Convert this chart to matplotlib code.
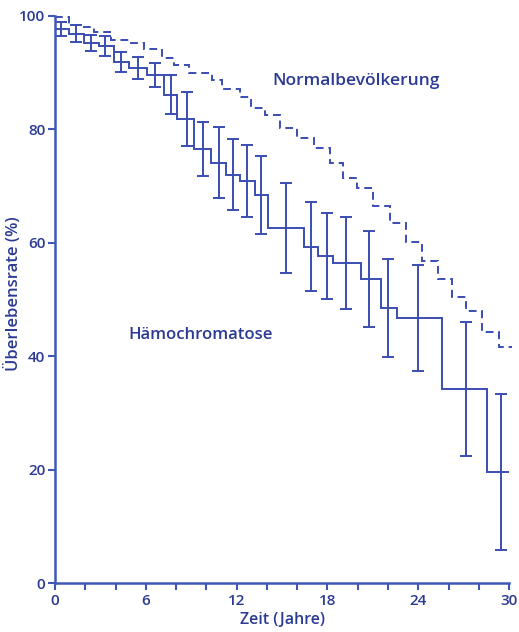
import matplotlib
matplotlib.use("Agg")
import matplotlib.pyplot as plt
import numpy as np

# Normalbevölkerung (dashed step curve)
normal_t = [0, 0.93, 1.72, 2.58, 3.71, 4.9, 5.89, 7.09, 7.88, 8.87, 10.4, 11.0,
            12.19, 12.98, 13.84, 14.83, 15.96, 17.09, 18.15, 19.0, 19.93, 20.99,
            22.12, 23.18, 24.24, 25.3, 26.23, 27.15, 28.21, 29.34, 30.2]
normal_v = [99.8, 98.4, 98.1, 97.2, 95.8, 95.2, 94.2, 92.6, 91.4, 89.9, 88.7,
            87.1, 85.7, 83.8, 82.5, 80.2, 78.5, 76.7, 74.1, 71.4, 69.7, 66.5,
            63.5, 60.1, 56.8, 53.6, 50.4, 48.0, 44.3, 41.6]

# Hämochromatose (solid step curve with error bars)
haemo_t = [0, 0.93, 1.92, 2.91, 3.91, 4.9, 6.09, 7.22, 8.08, 9.21, 10.33, 11.32,
           12.19, 13.18, 14.04, 16.42, 17.35, 18.34, 20.2, 21.52, 22.58, 25.56,
           28.54, 30.0]
haemo_v = [97.7, 96.8, 95.2, 94.7, 91.9, 90.8, 89.6, 86.1, 81.8, 76.5, 74.1,
           72.0, 70.9, 68.4, 62.6, 59.3, 57.7, 56.4, 53.6, 48.5, 46.7, 34.2, 19.6]
bar_t = [0.4, 1.39, 2.38, 3.31, 4.37, 5.5, 6.62, 7.68, 8.74, 9.8, 10.86, 11.79,
         12.65, 13.64, 15.23, 16.89, 17.95, 19.2, 20.73, 21.99, 23.97, 27.15, 29.47]
bar_err = [1.2, 1.5, 1.4, 1.7, 1.8, 2.0, 2.1, 3.4, 4.8, 4.8, 6.3, 6.3, 6.4, 6.9,
           8.0, 7.8, 7.6, 8.1, 8.4, 8.6, 9.3, 11.8, 13.8]

x_ticks = list(range(0, 31, 2))
x_labels = ["0", "6", "12", "18", "24", "30"]
y_ticks = [0, 20, 40, 60, 80, 100]

line_col = "#3a4db3"
text_col = "#2b3a93"
axis_col = "#3f58b8"

plt.rcParams['font.family'] = ['Open Sans', 'DejaVu Sans']

fig = plt.figure(figsize=(5.19, 6.32), dpi=100)
ax = fig.add_axes([0.106, 0.0775, 0.875, 0.8975])

# dashed normal population
ax.stairs(normal_v, normal_t, color=line_col, lw=1.4, ls=(0, (4, 2.5)),
          baseline=None, clip_on=False)
# solid haemochromatosis
ax.stairs(haemo_v, haemo_t, color=line_col, lw=1.4, baseline=None, clip_on=False)

# error bars at the bar positions, value taken from the step containing it
edges = np.array(haemo_t)
idx = np.searchsorted(edges, bar_t) - 1
bar_v = [haemo_v[i] for i in idx]
ax.errorbar(bar_t, bar_v, yerr=bar_err, fmt='none', ecolor=line_col,
            elinewidth=1.4, capsize=4.5, capthick=1.4, clip_on=False)

ax.set_xlim(0, 30)
ax.set_ylim(0, 100)

ax.set_xticks(x_ticks)
ax.set_xticklabels([str(t) if str(t) in x_labels else "" for t in x_ticks])
ax.set_yticks(y_ticks)
ax.set_yticklabels([str(v) for v in y_ticks])

for s in ["top", "right"]:
    ax.spines[s].set_visible(False)
for s in ["left", "bottom"]:
    ax.spines[s].set_color(axis_col)
    ax.spines[s].set_linewidth(1.8)

ax.tick_params(axis='both', colors=axis_col, width=1.5, length=5,
               labelcolor=text_col, labelsize=11)
ax.tick_params(axis='x', pad=3)
ax.tick_params(axis='y', pad=2)
for lab in ax.get_xticklabels() + ax.get_yticklabels():
    lab.set_fontweight('semibold')

ax.set_xlabel("Zeit (Jahre)", color=text_col, fontsize=11.5, labelpad=3,
              fontweight='semibold')
ax.set_ylabel("Überlebensrate (%)", color=text_col, fontsize=12,
              fontweight='semibold')
ax.yaxis.set_label_coords(-0.072, 0.51)

ax.text(19.9, 88.5, "Normalbevölkerung", color=text_col, fontsize=12.5,
        ha='center', va='center', fontweight='semibold')
ax.text(9.6, 43.7, "Hämochromatose", color=text_col, fontsize=12,
        ha='center', va='center', fontweight='semibold')

fig.savefig("out.png", dpi=100)
